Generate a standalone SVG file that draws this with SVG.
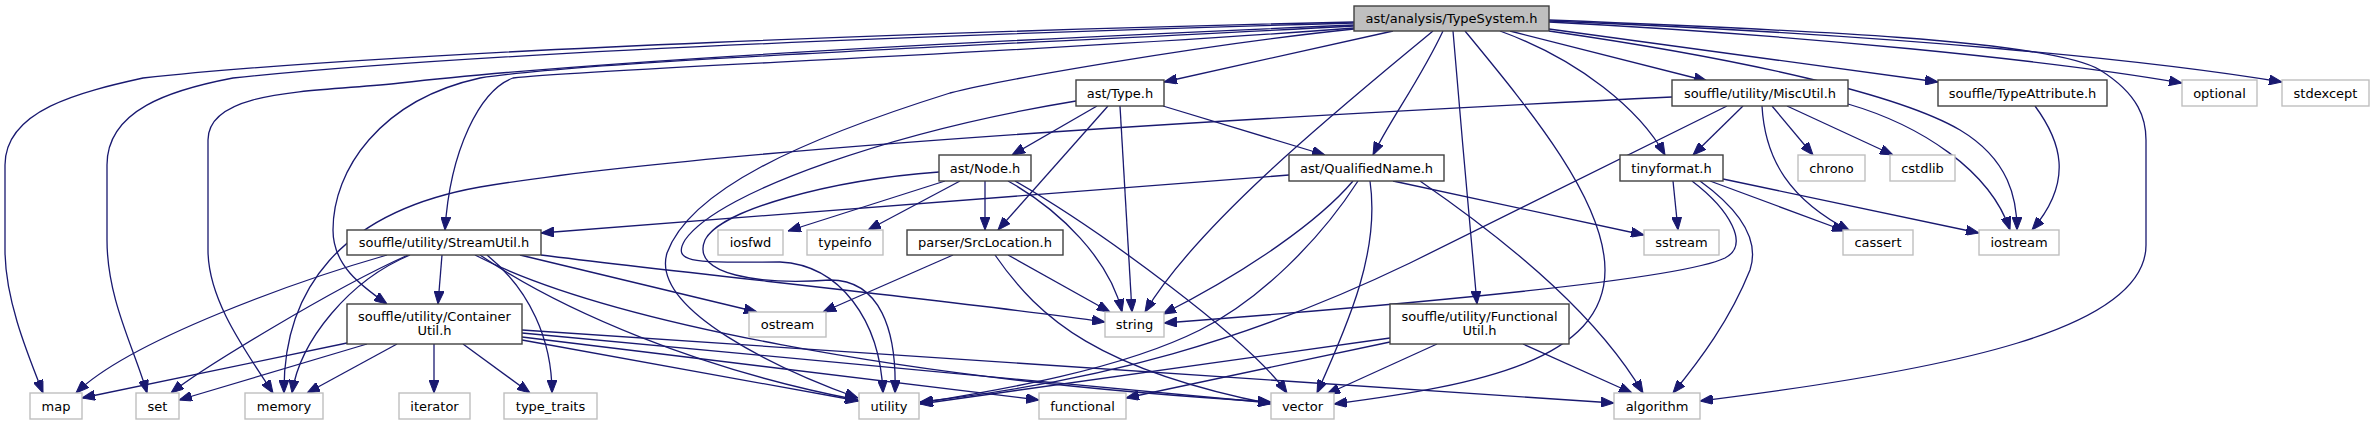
<svg xmlns="http://www.w3.org/2000/svg" width="2374" height="425" viewBox="0 0 2374 425">
<style>
.bg{fill:#ffffff}
.root rect{fill:#bfbfbf;stroke:#404040;stroke-width:1.4}
.int rect{fill:#ffffff;stroke:#404040;stroke-width:1.4}
.ext rect{fill:#ffffff;stroke:#bfbfbf;stroke-width:1.4}
text{font-family:"DejaVu Sans","Liberation Sans",sans-serif;font-size:13px;fill:#000000;text-anchor:middle}
#edges path{fill:none;stroke:#191970;stroke-width:1.3;marker-end:url(#arr)}
</style>
<defs>
<marker id="arr" markerUnits="userSpaceOnUse" markerWidth="13" markerHeight="10" viewBox="0 0 13 10" refX="13" refY="5" orient="auto">
<path d="M0,0 L13,5 L0,10 z" fill="#191970" stroke="#191970" stroke-width="1"/>
</marker>
</defs>
<rect class="bg" x="0" y="0" width="2374" height="425"/>
<g id="edges">
<!-- root edges -->
<path d="M1354,22 C1000,30 400,50 143,78 C80,92 5,110 5,165 L5,250 C5,300 28,355 43,393"/>
<path d="M1354,23 C1000,33 500,50 233,78 C170,90 107,110 107,165 L107,240 C107,300 135,350 147,393"/>
<path d="M1354,25 C1000,40 600,60 400,83 C320,92 208,88 208,140 L208,250 C208,300 245,350 273,393"/>
<path d="M1354,26 C1000,45 600,60 480,78 C380,100 333,170 333,230 C333,265 360,285 387,304"/>
<path d="M1354,28 C1000,55 600,68 513,78 C480,90 450,150 445,230"/>
<path d="M1354,29 C1200,45 1000,80 950,93 C800,140 690,190 667,253 C650,310 780,370 858,398"/>
<path d="M1393,31 L1164,82"/>
<path d="M1443,31 C1420,80 1390,120 1373,155"/>
<path d="M1433,31 C1350,100 1200,220 1145,312"/>
<path d="M1453,31 C1460,120 1470,220 1477,304"/>
<path d="M1465,31 C1530,110 1605,200 1605,270 C1605,360 1480,385 1334,404"/>
<path d="M1500,31 C1580,60 1640,110 1665,155"/>
<path d="M1510,31 L1707,81"/>
<path d="M1549,29 L1938,82"/>
<path d="M1549,31 C1750,60 1900,95 1960,130 C2010,160 2017,200 2017,230"/>
<path d="M1549,22 C1800,35 2050,60 2182,83"/>
<path d="M1549,21 C1900,35 2150,60 2282,82"/>
<path d="M1549,20 C1800,30 2050,40 2100,70 C2140,95 2146,120 2146,140 L2146,245 C2146,330 1950,370 1700,401"/>
<!-- ast/Type.h -->
<path d="M1097,106 L1012,155"/>
<path d="M1108,106 L998,230"/>
<path d="M1120,106 L1132,312"/>
<path d="M1163,106 L1325,155"/>
<path d="M1076,101 C900,130 720,190 685,240 C670,265 700,262 780,262 C840,265 880,320 883,393"/>
<!-- ast/Node.h -->
<path d="M945,181 L788,231"/>
<path d="M960,181 L868,230"/>
<path d="M939,172 C830,180 720,210 705,240 C690,275 760,285 830,280 C880,280 897,330 895,393"/>
<path d="M985,181 L985,230"/>
<path d="M1008,181 C1060,210 1110,260 1122,312"/>
<path d="M1015,181 C1100,230 1250,340 1287,393"/>
<!-- parser/SrcLocation.h -->
<path d="M953,255 L823,312"/>
<path d="M1008,255 L1110,312"/>
<path d="M995,255 C1040,320 1100,370 1271,404"/>
<!-- ast/QualifiedName.h -->
<path d="M1289,175 L541,233"/>
<path d="M1353,181 C1320,220 1250,270 1163,314"/>
<path d="M1358,181 C1320,240 1260,300 1200,330 C1120,370 1000,390 920,403"/>
<path d="M1370,181 C1380,250 1350,320 1317,393"/>
<path d="M1393,181 L1644,235"/>
<path d="M1420,181 C1520,250 1600,320 1643,393"/>
<!-- souffle/utility/MiscUtil.h -->
<path d="M1672,97 C1200,120 700,150 480,187 C340,212 283,290 284,393"/>
<path d="M1743,106 L1693,155"/>
<path d="M1727,106 L1410,263 C1250,340 1100,382 920,402"/>
<path d="M1772,106 L1813,155"/>
<path d="M1787,106 L1893,155"/>
<path d="M1762,106 C1765,160 1790,200 1850,231"/>
<path d="M1848,104 C1920,125 1990,170 2010,230"/>
<!-- tinyformat.h -->
<path d="M1673,181 L1678,230"/>
<path d="M1710,181 L1845,231"/>
<path d="M1723,179 L1979,233"/>
<path d="M1692,181 C1730,210 1750,245 1725,258 C1680,280 1400,305 1164,323"/>
<path d="M1700,181 C1740,210 1760,240 1750,270 C1730,320 1700,360 1673,393"/>
<!-- souffle/TypeAttribute.h -->
<path d="M2035,106 C2060,140 2075,180 2032,230"/>
<!-- souffle/utility/FunctionalUtil.h -->
<path d="M1390,338 L920,404"/>
<path d="M1390,342 L1126,398"/>
<path d="M1437,344 L1327,394"/>
<path d="M1523,344 L1632,393"/>
<!-- souffle/utility/StreamUtil.h -->
<path d="M387,255 C300,280 130,340 76,393"/>
<path d="M408,255 C330,290 200,370 171,393"/>
<path d="M410,255 C350,280 300,340 292,393"/>
<path d="M442,255 L438,304"/>
<path d="M487,255 C530,290 552,340 552,393"/>
<path d="M520,255 L757,312"/>
<path d="M541,255 C700,275 950,300 1105,322"/>
<path d="M480,255 C560,310 700,370 858,400"/>
<path d="M475,255 C600,320 900,380 1271,402"/>
<!-- souffle/utility/ContainerUtil.h -->
<path d="M347,343 L82,398"/>
<path d="M367,344 L179,400"/>
<path d="M397,344 L307,393"/>
<path d="M434,344 L434,393"/>
<path d="M463,344 L530,393"/>
<path d="M522,330 L1614,403"/>
<path d="M522,333 L1271,403"/>
<path d="M522,337 L1039,400"/>
<path d="M522,340 L859,401"/>
</g>
<g id="n-root" class="root"><rect x="1354" y="6" width="195" height="25"/><text x="1451.5" y="23">ast/analysis/TypeSystem.h</text></g>
<g id="n-type" class="int"><rect x="1076" y="80" width="88" height="26"/><text x="1120" y="97.5">ast/Type.h</text></g>
<g id="n-misc" class="int"><rect x="1672" y="80" width="176" height="26"/><text x="1760" y="97.5">souffle/utility/MiscUtil.h</text></g>
<g id="n-typeattr" class="int"><rect x="1938" y="80" width="169" height="26"/><text x="2022.5" y="97.5">souffle/TypeAttribute.h</text></g>
<g id="n-optional" class="ext"><rect x="2182" y="80" width="75" height="26"/><text x="2219.5" y="97.5">optional</text></g>
<g id="n-stdexcept" class="ext"><rect x="2282" y="80" width="87" height="26"/><text x="2325.5" y="97.5">stdexcept</text></g>
<g id="n-node" class="int"><rect x="939" y="155" width="92" height="26"/><text x="985" y="172.5">ast/Node.h</text></g>
<g id="n-qname" class="int"><rect x="1289" y="155" width="155" height="26"/><text x="1366.5" y="172.5">ast/QualifiedName.h</text></g>
<g id="n-tinyformat" class="int"><rect x="1620" y="155" width="103" height="26"/><text x="1671.5" y="172.5">tinyformat.h</text></g>
<g id="n-chrono" class="ext"><rect x="1798" y="155" width="67" height="26"/><text x="1831.5" y="172.5">chrono</text></g>
<g id="n-cstdlib" class="ext"><rect x="1890" y="155" width="65" height="26"/><text x="1922.5" y="172.5">cstdlib</text></g>
<g id="n-stream" class="int"><rect x="347" y="230" width="194" height="25"/><text x="444" y="247">souffle/utility/StreamUtil.h</text></g>
<g id="n-iosfwd" class="ext"><rect x="718" y="230" width="65" height="25"/><text x="750.5" y="247">iosfwd</text></g>
<g id="n-typeinfo" class="ext"><rect x="807" y="230" width="76" height="25"/><text x="845" y="247">typeinfo</text></g>
<g id="n-srcloc" class="int"><rect x="907" y="230" width="156" height="25"/><text x="985" y="247">parser/SrcLocation.h</text></g>
<g id="n-sstream" class="ext"><rect x="1644" y="230" width="75" height="25"/><text x="1681.5" y="247">sstream</text></g>
<g id="n-cassert" class="ext"><rect x="1843" y="230" width="70" height="25"/><text x="1878" y="247">cassert</text></g>
<g id="n-iostream" class="ext"><rect x="1979" y="230" width="80" height="25"/><text x="2019" y="247">iostream</text></g>
<g id="n-container" class="int"><rect x="347" y="304" width="175" height="40"/><text x="434.5" y="320.5">souffle/utility/Container</text><text x="434.5" y="335">Util.h</text></g>
<g id="n-ostream" class="ext"><rect x="749" y="312" width="77" height="25"/><text x="787.5" y="329">ostream</text></g>
<g id="n-string" class="ext"><rect x="1105" y="312" width="59" height="25"/><text x="1134.5" y="329">string</text></g>
<g id="n-functional-util" class="int"><rect x="1390" y="304" width="179" height="40"/><text x="1479.5" y="320.5">souffle/utility/Functional</text><text x="1479.5" y="335">Util.h</text></g>
<g id="n-map" class="ext"><rect x="30" y="393" width="52" height="26"/><text x="56" y="410.5">map</text></g>
<g id="n-set" class="ext"><rect x="136" y="393" width="43" height="26"/><text x="157.5" y="410.5">set</text></g>
<g id="n-memory" class="ext"><rect x="245" y="393" width="78" height="26"/><text x="284" y="410.5">memory</text></g>
<g id="n-iterator" class="ext"><rect x="399" y="393" width="71" height="26"/><text x="434.5" y="410.5">iterator</text></g>
<g id="n-typetraits" class="ext"><rect x="504" y="393" width="93" height="26"/><text x="550.5" y="410.5">type_traits</text></g>
<g id="n-utility" class="ext"><rect x="859" y="393" width="60" height="26"/><text x="889" y="410.5">utility</text></g>
<g id="n-functional" class="ext"><rect x="1039" y="393" width="87" height="26"/><text x="1082.5" y="410.5">functional</text></g>
<g id="n-vector" class="ext"><rect x="1271" y="393" width="63" height="26"/><text x="1302.5" y="410.5">vector</text></g>
<g id="n-algorithm" class="ext"><rect x="1614" y="393" width="86" height="26"/><text x="1657" y="410.5">algorithm</text></g>
</svg>
